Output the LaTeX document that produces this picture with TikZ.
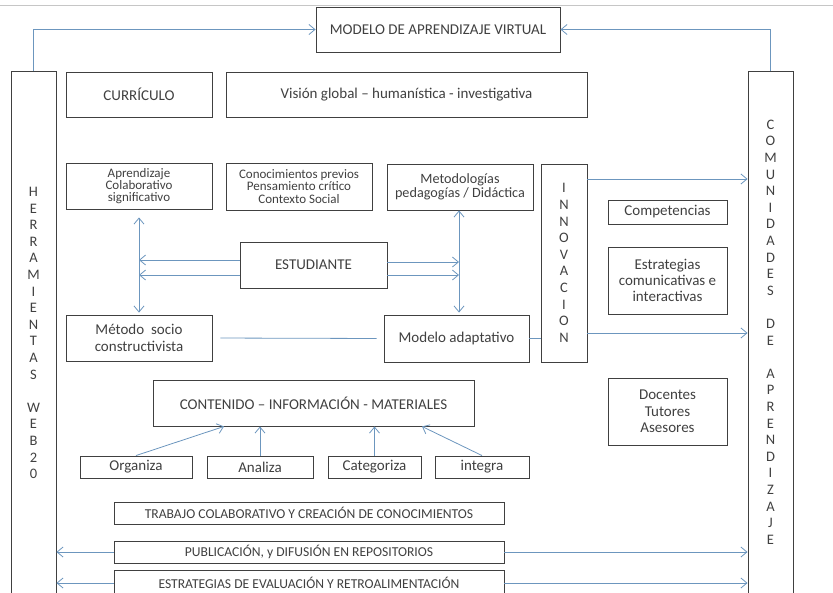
\documentclass[tikz,border=0pt]{standalone}
\usepackage{fontspec}
\setmainfont{Carlito}
\usetikzlibrary{arrows.meta}
\definecolor{linkblue}{RGB}{108,150,190}
\definecolor{inkgray}{RGB}{64,64,64}

\begin{document}
\begin{tikzpicture}[
  x=1pt, y=-1pt,
  font=\fontsize{15}{17}\selectfont, text=inkgray,
  box/.style={draw=inkgray, line width=0.9pt, inner sep=0pt, align=center},
  small/.style={font=\fontsize{13}{12.4}\selectfont},
  caps/.style={font=\fontsize{13.6}{15}\selectfont},
  bar/.style={draw=inkgray, line width=0.9pt, minimum width=45pt, minimum height=540pt, inner sep=0pt},
  vtxt/.style={align=center, inner sep=0pt, font=\fontsize{14.5}{16.6}\selectfont},
  lnk/.style={draw=linkblue, line width=0.8pt},
  arr/.style={lnk, -{Straight Barb[length=6pt,width=10pt]}},
  darr/.style={lnk, {Straight Barb[length=6pt,width=10pt]}-{Straight Barb[length=6pt,width=10pt]}}
]
  \useasboundingbox (0,0) rectangle (833,592);
  \clip (0,0) rectangle (833,592);
  \draw[gray!45] (0,5) -- (833,5);

  \node[box, minimum width=244pt, minimum height=45pt] (modelo) at (438,29.5) {MODELO DE APRENDIZAJE VIRTUAL};

  \node[bar] (herr) at (33.5,341) {};
  \node[vtxt] (herrtxt) at (33.5,333) {H\\E\\R\\R\\A\\M\\I\\E\\N\\T\\A\\S\\[16.6pt]W\\E\\B\\2\\0};
  \node[bar] (comun) at (770.5,341) {};
  \node[vtxt] (comuntxt) at (770.5,332) {C\\O\\M\\U\\N\\I\\D\\A\\D\\E\\S\\[16.6pt]D\\E\\[16.6pt]A\\P\\R\\E\\N\\D\\I\\Z\\A\\J\\E};

  \node[box, minimum width=146pt, minimum height=45pt] (curriculo) at (139,94.5) {CURRÍCULO};
  \node[box, minimum width=361pt, minimum height=45pt] (vision) at (406.5,94.5) {Visión global -- humanística - investigativa};

  \node[box, small, minimum width=146pt, minimum height=46pt] (aprend) at (139,186) {Aprendizaje\\Colaborativo\\significativo};
  \node[box, small, minimum width=146pt, minimum height=47pt] (conoc) at (299,186.5) {Conocimientos previos\\Pensamiento crítico\\Contexto Social};
  \node[box, font=\fontsize{14.2}{13.5}\selectfont, minimum width=146pt, minimum height=46pt] (metod) at (460,187) {Metodologías\\pedagogías / Didáctica};
  \node[box, vtxt, minimum width=46pt, minimum height=198pt] (innov) at (564,263) {I\\N\\N\\O\\V\\A\\C\\I\\O\\N};

  \node[box, minimum width=119pt, minimum height=24pt] (compet) at (667.5,212) {Competencias};
  \node[box, font=\fontsize{15}{16}\selectfont, minimum width=119pt, minimum height=67pt] (estrat) at (667.5,280.5) {Estrategias\\comunicativas e\\interactivas};
  \node[box, font=\fontsize{15}{16.5}\selectfont, minimum width=119pt, minimum height=67pt] (docentes) at (667.5,411.5) {Docentes\\Tutores\\Asesores};

  \node[box, minimum width=147pt, minimum height=46pt] (estud) at (313.5,265) {ESTUDIANTE};
  \node[box, font=\fontsize{15}{17}\selectfont, minimum width=146pt, minimum height=46pt] (metodo) at (139,338) {Método~ socio\\constructivista};
  \node[box, minimum width=145pt, minimum height=47pt] (adapt) at (456.5,338.5) {Modelo adaptativo};

  \node[box, minimum width=321pt, minimum height=46pt] (contenido) at (313.5,403) {CONTENIDO -- INFORMACIÓN - MATERIALES};
  \node[box, minimum width=112pt, minimum height=22pt] (organiza) at (136,467) {Organiza};
  \node[box, minimum width=106pt, minimum height=22pt] (analiza) at (260,467) {Analiza};
  \node[box, minimum width=93pt, minimum height=22pt] (categoriza) at (374.5,467) {Categoriza};
  \node[box, minimum width=94pt, minimum height=22pt] (integra) at (482,467) {integra};

  \node[box, caps, minimum width=390pt, minimum height=22pt] (trabajo) at (309,513) {TRABAJO COLABORATIVO Y CREACIÓN DE CONOCIMIENTOS};
  \node[box, caps, minimum width=390pt, minimum height=22pt] (public) at (309,552) {PUBLICACIÓN, y DIFUSIÓN EN REPOSITORIOS};
  \node[box, caps, minimum width=390pt, minimum height=26pt] (evalua) at (309,583) {ESTRATEGIAS DE EVALUACIÓN Y RETROALIMENTACIÓN};

  \draw[arr] (herr.north) |- (modelo.west);
  \draw[arr] (comun.north) |- (modelo.east);

  \draw[darr, shorten <=8pt, shorten >=2pt] (aprend.south) -- (metodo.north);
  \draw[arr] (estud.west |- 0,260) -- (aprend.south |- 0,260);
  \draw[arr] (estud.west |- 0,275) -- (aprend.south |- 0,275);
  \draw[darr, shorten >=2pt] (metod.south -| 459,0) -- (adapt.north -| 459,0);
  \draw[arr] (estud.east |- 0,262) -- (459,262);
  \draw[arr] (estud.east |- 0,275) -- (459,275);

  \draw[lnk, shorten <=8pt, shorten >=7pt] (metodo.east) -- (adapt.west);
  \draw[lnk] (adapt.east) -- (adapt.east -| innov.west);
  \draw[arr] (innov.east |- 0,179) -- (comun.west |- 0,179);
  \draw[arr] (innov.east |- 0,333) -- (comun.west |- 0,333);

  \draw[arr] (organiza.north) -- (224,0 |- contenido.south);
  \draw[arr] (analiza.north) -- (analiza.north |- contenido.south);
  \draw[arr] (categoriza.north) -- (categoriza.north |- contenido.south);
  \draw[arr] (integra.north) -- (422,0 |- contenido.south);

  \draw[arr] (public.west) -- (public.west -| herr.east);
  \draw[arr] (public.east) -- (public.east -| comun.west);
  \draw[arr] (evalua.west) -- (evalua.west -| herr.east);
  \draw[arr] (evalua.east) -- (evalua.east -| comun.west);
\end{tikzpicture}
\end{document}
